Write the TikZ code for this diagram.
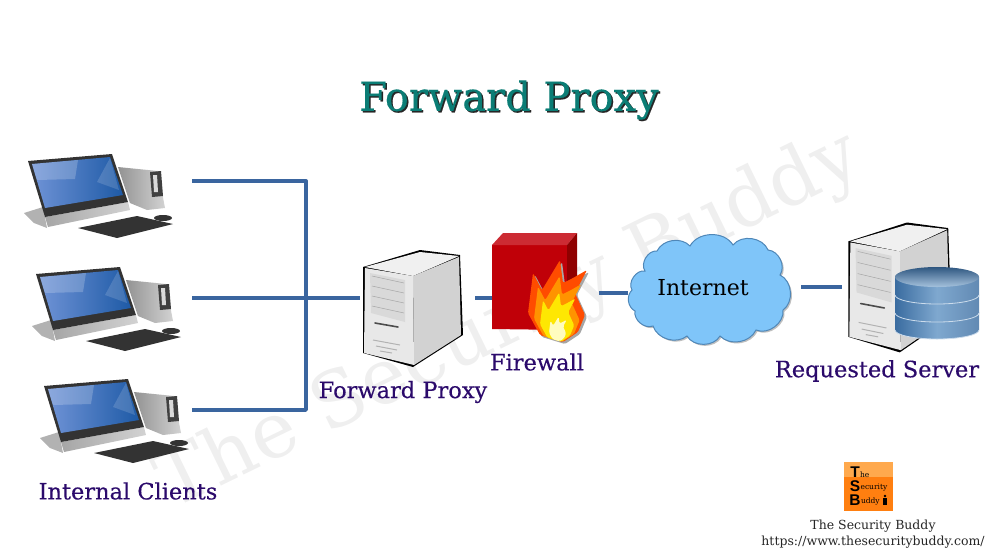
\documentclass[tikz,border=0pt]{standalone}
\usepackage{fontspec}
\setmainfont{DejaVu Serif}
\newfontfamily\logofont{Liberation Sans}
\newfontfamily\heavyfont[FakeBold=0.35]{DejaVu Serif}
\usetikzlibrary{positioning,calc}

\definecolor{linkblue}{HTML}{3A659F}
\definecolor{labelink}{HTML}{2B0A6B}
\definecolor{titleteal}{HTML}{0B7D75}
\definecolor{markgray}{HTML}{EFEFEF}
\definecolor{cloudfill}{HTML}{7FC5F9}
\definecolor{cloudedge}{HTML}{4F87B8}
\definecolor{dbdark}{HTML}{3A6CA0}
\definecolor{dblight}{HTML}{7FA8CF}
\definecolor{wallfront}{HTML}{C00008}
\definecolor{walltop}{HTML}{CC2B33}
\definecolor{wallside}{HTML}{8F0000}
\definecolor{screenlight}{HTML}{6F93D6}
\definecolor{screenmid}{HTML}{2A8BD0}
\definecolor{screendark}{HTML}{1E5AA6}
\definecolor{logotop}{HTML}{FFA94D}
\definecolor{logolow}{HTML}{FF7F10}

\newcommand{\fs}[1]{\fontsize{#1}{#1}\selectfont}
\newcommand{\cloudpath}{(632,287) to[bend left=65] (645,268) to[bend left=65] (657,248)
  to[bend left=55] (690,243) to[bend left=60] (733,242) to[bend left=60] (768,247)
  to[bend left=60] (780,272) to[bend left=60] (783,307) to[bend left=60] (756,327)
  to[bend left=55] (720,333) to[bend left=60] (687,333) to[bend left=55] (653,323)
  to[bend left=60] (635,308) to[bend left=55] (632,287) -- cycle}

\tikzset{
  link/.style={draw=linkblue, line width=3.4pt, line join=round},
  label/.style={text=labelink, font=\heavyfont\fs{22.5}},
  slot/.style={inner sep=0pt, outer sep=0pt, minimum height=10pt},
  logobig/.style={font=\logofont\bfseries\fs{15.5}, inner sep=0pt},
  logosmall/.style={font=\fs{7.5}, inner sep=0pt, anchor=south west},
  flame/.pic={
    \fill[#1, rounded corners=1.5pt] (528,313) -- (533,273) -- (542,290) -- (560,260) -- (563,283) -- (573,278)
      -- (587,270) -- (575,293) -- (585,315) -- (578,332) -- (563,342) -- (540,335) -- cycle;
  },
  pc/.pic={
    % shadow
    \fill[gray!60] (24,213) -- (43,207) -- (47,228) -- (34,223) -- cycle;
    % tower
    \shade[left color=gray!85, middle color=gray!15, right color=gray!35] (118,167) -- (158,171) -- (165,208) -- (147,210) -- (130,203) -- cycle;
    \fill[black!75] (150,172) -- (161,171) -- (163,196) -- (152,197) -- cycle;
    \fill[gray!30] (153,175) -- (157,175) -- (158,192) -- (154,192) -- cycle;
    % monitor
    \shade[left color=gray!70, right color=gray!35] (45,217) -- (128,202) -- (130,210) -- (48,227) -- cycle;
    \fill[black!80] (28,161) -- (112,154) -- (128,202) -- (45,217) -- cycle;
    \shade[left color=screenlight, middle color=screenmid, right color=screendark] (32,164) -- (110,157) -- (123,195) -- (45,208) -- cycle;
    \fill[white, opacity=.2] (32,164) -- (78,160) -- (75,179) -- (37,180) -- cycle;
    \fill[white, opacity=.15] (110,158) -- (97,182) -- (119,190) -- cycle;
    % keyboard and mouse
    \fill[black!80] (78,228) -- (137,216) -- (173,224) -- (117,238) -- cycle;
    \fill[black!80] (163,218) ellipse (9pt and 3pt);
  },
  serverbox/.pic={
    \fill[black] (363,267) -- (420,250) -- (460,255) -- (463,335) -- (413,367) -- (363,353) -- cycle;
    \fill[gray!12] (365,267) -- (420,252) -- (459,256) -- (413,276) -- cycle;
    \fill[gray!35] (413,276) -- (459,257) -- (461,335) -- (414,365) -- cycle;
    \fill[gray!18] (365,268) -- (413,276) -- (414,365) -- (364,353) -- cycle;
    \fill[gray!30] (370,273) -- (405,280) -- (405,322) -- (371,313) -- cycle;
    \foreach \y in {0,10,20,30}
      \draw[gray!70, line width=.5pt] (372,276+\y) -- (404,283+\y);
    \draw[black!70, line width=1.6pt, line cap=round] (375,323) -- (398,327);
    \draw[gray!60, line width=1pt] (373,340) -- (400,345);
    \draw[gray!60, line width=1pt] (376,346) -- (397,350);
    \draw[gray!60, line width=1pt] (380,351) -- (392,353);
  },
  dbdisk/.pic={
    \shade[left color=dbdark, right color=dbdark!80!white, middle color=dblight]
      (-42,0) -- (-42,18) arc[start angle=180, end angle=360, x radius=42pt, y radius=9pt] -- (42,0)
      arc[start angle=0, end angle=180, x radius=42pt, y radius=9pt] -- cycle;
    \draw[white!60!dblight, line width=.8pt] (-42,18) arc[start angle=180, end angle=360, x radius=42pt, y radius=9pt];
  }
}

\begin{document}
\begin{tikzpicture}[x=1pt, y=-1pt]
\useasboundingbox (0,0) rectangle (992,558);

% watermark
\node[text=markgray, font=\fs{77}, rotate=26] (mark) at (510,322) {The Security Buddy};

% heading
\node[text=black!85, font=\heavyfont\fs{40}] (headshadow) at (510.5,101.5) {Forward Proxy};
\node[text=titleteal, font=\heavyfont\fs{40}] (heading) at (509,100) {Forward Proxy};

% invisible places for the connectors
\node[slot, minimum width=170pt] (client1) at (107,181) {};
\node[slot, minimum width=170pt] (client2) at (107,298) {};
\node[slot, minimum width=170pt] (client3) at (107,410) {};
\coordinate (bus) at (306,298);
\node[slot, minimum width=115pt] (proxy) at (417.5,298) {};
\node[slot, minimum width=107pt] (firewall) at (545.5,298) {};
\node[slot, minimum width=173pt] (cloud) at (714.5,293) {};
\node[slot, minimum width=100pt] (server) at (892,287) {};

% connectors
\draw[link] (client1.east) -| (bus) |- (client3.east);
\draw[link] (client2.east) -- (proxy.west);
\draw[link] (proxy.east) -- (firewall.west);
\draw[link] (firewall.east |- cloud.west) -- (cloud.west);
\draw[link] (cloud.east |- server.west) -- (server.west);

% clients
\pic {pc};
\pic at (8,113) {pc};
\pic at (16,225) {pc};
\node[label] (clientslabel) at (128,491) {Internal Clients};

% forward proxy
\pic {serverbox};
\node[label] (proxylabel) at (403,392) {Forward Proxy};

% firewall
\fill[wallfront] (492,245) -- (567,245) -- (567,330) -- (492,329) -- cycle;
\fill[walltop] (492,245) -- (503,233) -- (577,233) -- (567,245) -- cycle;
\fill[wallside] (567,245) -- (577,233) -- (577,310) -- (567,320) -- cycle;
\pic at (2,2) {flame=gray!70};
\pic {flame=orange!60!red};
\begin{scope}[shift={(558,341)}, scale=.8, shift={(-558,-341)}]
  \pic[transform shape] {flame=orange!85!yellow};
\end{scope}
\begin{scope}[shift={(558,341)}, scale=.6, shift={(-558,-341)}]
  \pic[transform shape] {flame=yellow!90!orange};
\end{scope}
\begin{scope}[shift={(558,341)}, scale=.3, shift={(-558,-341)}]
  \pic[transform shape] {flame=yellow!25};
\end{scope}
\node[label] (firewalllabel) at (537,362) {Firewall};

% internet
\fill[gray!50, shift={(1.5,4.5)}] \cloudpath;
\filldraw[fill=cloudfill, draw=cloudedge, line width=1pt, shift={(0,3)}] \cloudpath;
\node[font=\fs{22}] (internet) at (703,288) {Internet};

% requested server
\pic[xscale=1.03, yscale=1.11] at (474.4,-55) {serverbox};
\pic at (937,312) {dbdisk};
\pic at (937,295) {dbdisk};
\pic at (937,277) {dbdisk};
\shade[top color=dbdark!80!black, bottom color=dblight!70!white] (937,277) ellipse (42pt and 10pt);
\node[label] (serverlabel) at (877,371) {Requested Server};

% logo
\fill[logotop] (844,462) rectangle (893,511);
\fill[logolow] (844,477) rectangle (893,511);
\node[logobig] (logot) at (855,472) {T};
\node[logosmall] (logothe) at (logot.south east) {he};
\node[logobig] (logos) at (855,486) {S};
\node[logosmall] (logosec) at (logos.south east) {ecurity};
\node[logobig] (logob) at (855,500) {B};
\node[logosmall] (logobud) at (logob.south east) {uddy};
\fill[black] (883,498) rectangle (887,505);
\fill[black] (885,496) circle (1.4pt);

% footer
\node[font=\fs{12.5}, text=black!85] (brand) at (873,526) {The Security Buddy};
\node[font=\fs{12.5}, text=black!85] (site) at (873,542) {https://www.thesecuritybuddy.com/};
\end{tikzpicture}
\end{document}
